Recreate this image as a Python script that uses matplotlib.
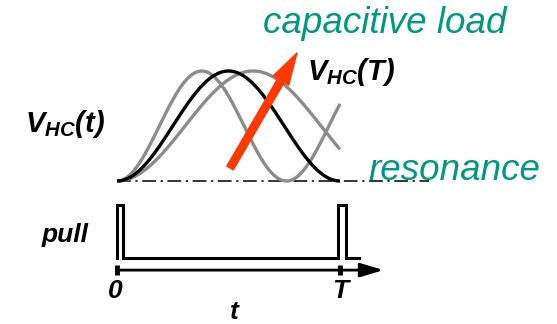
import numpy as np
import matplotlib
matplotlib.use("Agg")
import matplotlib.pyplot as plt

plt.rcParams["font.family"] = "Liberation Sans"
plt.rcParams["mathtext.fontset"] = "custom"
plt.rcParams["mathtext.bfit"] = "Liberation Sans:italic:bold"
plt.rcParams["mathtext.rm"] = "Liberation Sans"

TEAL = "#00987f"
RED = "#ff3a00"
GRAY = "#8c8c8c"

# resonance periods of the three V_HC(t) curves, in units of T
periods = [0.76, 1.0, 1.22]
curve_colors = [GRAY, "black", GRAY]

# pull signal (time in T, level 0/1)
pull_t = [0.0, 0.0, 0.027, 0.027, 0.992, 0.992, 1.027, 1.027, 1.085]
pull_level = [0, 1, 1, 0, 0, 1, 1, 0, 0]

# reference levels
baseline_end = 1.40
axis_end = 1.195
pull_low, pull_high = -0.70, -0.22
axis_y = -0.81

fig = plt.figure(figsize=(5.57, 3.24), dpi=100)
ax = fig.add_axes([0, 0, 1, 1])
ax.set_xlim(-117 / 223, (557 - 117) / 223)
ax.set_ylim((181 - 324) / 110, 181 / 110)
ax.axis("off")

# V_HC(t) curves
t = np.linspace(0, 1, 300)
for p, c in zip(periods, curve_colors):
    v = (1 - np.cos(2 * np.pi * t / p)) / 2
    ax.plot(t, v, color=c, lw=2.4, solid_capstyle="butt",
            zorder=3 if c == "black" else 2)

# resonance baseline (dash-dot)
ax.plot([0, baseline_end], [0, 0], color="black", lw=1.1,
        dashes=(9, 3, 1.5, 3), zorder=1)

# red arrow
ax.annotate("", xy=(0.807, 1.164), xytext=(0.507, 0.118),
            arrowprops=dict(arrowstyle="simple,head_length=1.15,head_width=0.65,tail_width=0.27",
                            color=RED, shrinkA=0, shrinkB=0, mutation_scale=20),
            zorder=4)

# pull pulse
pl = [pull_low + l * (pull_high - pull_low) for l in pull_level]
ax.plot(pull_t, pl, color="black", lw=2.2, solid_joinstyle="miter")

# time axis
ax.annotate("", xy=(axis_end, axis_y), xytext=(0, axis_y),
            arrowprops=dict(arrowstyle="-|>,head_length=1.0,head_width=0.3",
                            color="black", lw=2.0, shrinkA=0, shrinkB=0,
                            mutation_scale=14))
ax.plot([0, 1], [axis_y, axis_y], ls="none", marker="|", ms=7, mew=3.5,
        color="black")

# labels
ax.text(0.655, 1.345, "capacitive load", color=TEAL, fontsize=26.5,
        style="italic", va="baseline", ha="left")
ax.text(1.126, 0.01, "resonance", color=TEAL, fontsize=26.5,
        style="italic", va="baseline", ha="left")
ax.text(0.852, 0.918, r"$\mathbfit{V}_{\mathbfit{HC}}\mathbfit{(T)}$",
        fontsize=21, va="baseline", ha="left")
ax.text(-0.413, 0.445, r"$\mathbfit{V}_{\mathbfit{HC}}\mathbfit{(t)}$",
        fontsize=21, va="baseline", ha="left")
ax.text(-0.336, -0.555, "pull", fontsize=19, weight="bold", style="italic",
        va="baseline", ha="left")
ax.text(-0.01, -1.06, "0", fontsize=19, weight="bold", style="italic",
        va="baseline", ha="center")
ax.text(1.0, -1.06, "T", fontsize=19, weight="bold", style="italic",
        va="baseline", ha="center")
ax.text(0.525, -1.255, "t", fontsize=19, weight="bold", style="italic",
        va="baseline", ha="center")

fig.savefig("out.png", dpi=100)
